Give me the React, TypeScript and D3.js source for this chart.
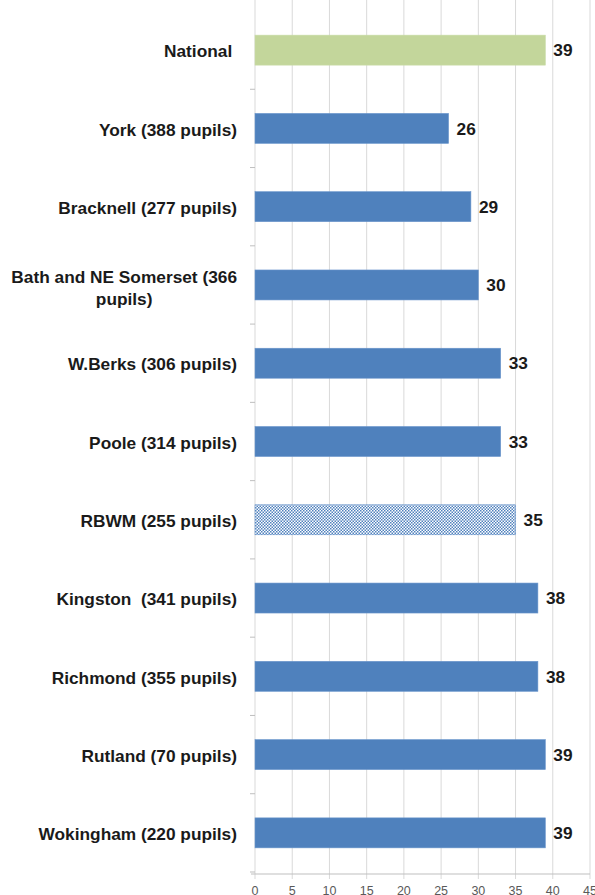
import React from "react";
import * as d3 from "d3";

const categories = [
  "National ",
  "York (388 pupils)",
  "Bracknell (277 pupils)",
  "Bath and NE Somerset (366 pupils)",
  "W.Berks (306 pupils)",
  "Poole (314 pupils)",
  "RBWM (255 pupils)",
  "Kingston  (341 pupils)",
  "Richmond (355 pupils)",
  "Rutland (70 pupils)",
  "Wokingham (220 pupils)",
];
const values = [39, 26, 29, 30, 33, 33, 35, 38, 38, 39, 39];
const xTicks = [0, 5, 10, 15, 20, 25, 30, 35, 40, 45];

const W = 595;
const H = 895;
const LABEL_SIZE = 17.3;
const LABEL_FONT = `bold ${LABEL_SIZE}px 'Liberation Sans', Arial, sans-serif`;

function measure(text: string): number {
  const c = document.createElement("canvas").getContext("2d");
  if (!c) return text.length * 9;
  c.font = LABEL_FONT;
  return c.measureText(text).width;
}

function wrap(text: string, maxChars: number): string[] {
  if (text.length <= maxChars) return [text];
  const words = text.split(" ");
  const lines: string[] = [];
  let cur = "";
  for (const w of words) {
    const next = cur ? cur + " " + w : w;
    if (next.length > maxChars && cur) {
      lines.push(cur);
      cur = w;
    } else cur = next;
  }
  if (cur) lines.push(cur);
  return lines;
}

export default function App() {
  const x = d3.scaleLinear().domain([0, 45]).range([255, 590]);
  const y = d3
    .scaleBand<string>()
    .domain(categories)
    .range([11, 872])
    .paddingInner(0.617)
    .paddingOuter(0.3085);
  const step = y.step();
  const bw = y.bandwidth();
  const axisY = 874;
  const labelRight = 237;

  const blue = "#4F81BD";
  const green = "#C3D69B";
  const grid = "#D9D9D9";

  return (
    <svg
      width={W}
      height={H}
      style={{ position: "absolute", left: 0, top: 0, background: "#fff" }}
      fontFamily="'Liberation Sans', Arial, sans-serif"
    >
      <defs>
        <pattern id="checker" width={3} height={3} patternUnits="userSpaceOnUse">
          <rect width={3} height={3} fill="#ffffff" />
          <rect width={1.5} height={1.5} fill={blue} />
          <rect x={1.5} y={1.5} width={1.5} height={1.5} fill={blue} />
        </pattern>
      </defs>
      <rect width={W} height={H} fill="#fff" />
      {xTicks.map((t) => (
        <line
          key={"g" + t}
          x1={x(t)}
          x2={x(t)}
          y1={0}
          y2={axisY + 5}
          stroke={grid}
          strokeWidth={1}
        />
      ))}
      <line x1={251} x2={590} y1={axisY} y2={axisY} stroke="#BFBFBF" strokeWidth={1} />
      {d3.range(1, categories.length + 1).map((k) => (
        <line
          key={"lt" + k}
          x1={250}
          x2={255}
          y1={11 + k * step}
          y2={11 + k * step}
          stroke="#BFBFBF"
          strokeWidth={1}
        />
      ))}
      {xTicks.map((t) => (
        <text
          key={"tl" + t}
          x={x(t)}
          y={895}
          textAnchor="middle"
          fontSize={12.5}
          fill="#595959"
        >
          {t}
        </text>
      ))}
      {categories.map((c, i) => {
        const fill = i === 0 ? green : c.startsWith("RBWM") ? "url(#checker)" : blue;
        return (
          <rect
            key={"b" + i}
            x={x(0)}
            y={y(c)}
            width={x(values[i]) - x(0)}
            height={bw}
            fill={fill}
            stroke={i === 0 ? "#C9DBA8" : "#6A96CC"}
            strokeWidth={0.6}
          />
        );
      })}
      {categories.map((c, i) => (
        <text
          key={"v" + i}
          x={x(values[i]) + 8}
          y={(y(c) as number) + bw / 2}
          dy="0.36em"
          fontSize={LABEL_SIZE}
          fontWeight="bold"
          fill="#1a1a1a"
        >
          {values[i]}
        </text>
      ))}
      {categories.map((c, i) => {
        const lines = wrap(c, 26);
        const cy = (y(c) as number) + bw / 2 + 1;
        if (lines.length === 1) {
          return (
            <text
              key={"c" + i}
              x={labelRight}
              y={cy}
              dy="0.36em"
              textAnchor="end"
              fontSize={LABEL_SIZE}
              fontWeight="bold"
              fill="#1a1a1a"
              style={{ whiteSpace: "pre" }}
            >
              {c}
            </text>
          );
        }
        const w0 = measure(lines[0]);
        const cx = labelRight - w0 / 2;
        const lh = 21.5;
        const y0 = cy + 2 - ((lines.length - 1) * lh) / 2;
        return (
          <text
            key={"c" + i}
            textAnchor="middle"
            fontSize={LABEL_SIZE}
            fontWeight="bold"
            fill="#1a1a1a"
            style={{ whiteSpace: "pre" }}
          >
            {lines.map((l, j) => (
              <tspan key={j} x={cx} y={y0 + j * lh} dy="0.36em">
                {l}
              </tspan>
            ))}
          </text>
        );
      })}
    </svg>
  );
}
